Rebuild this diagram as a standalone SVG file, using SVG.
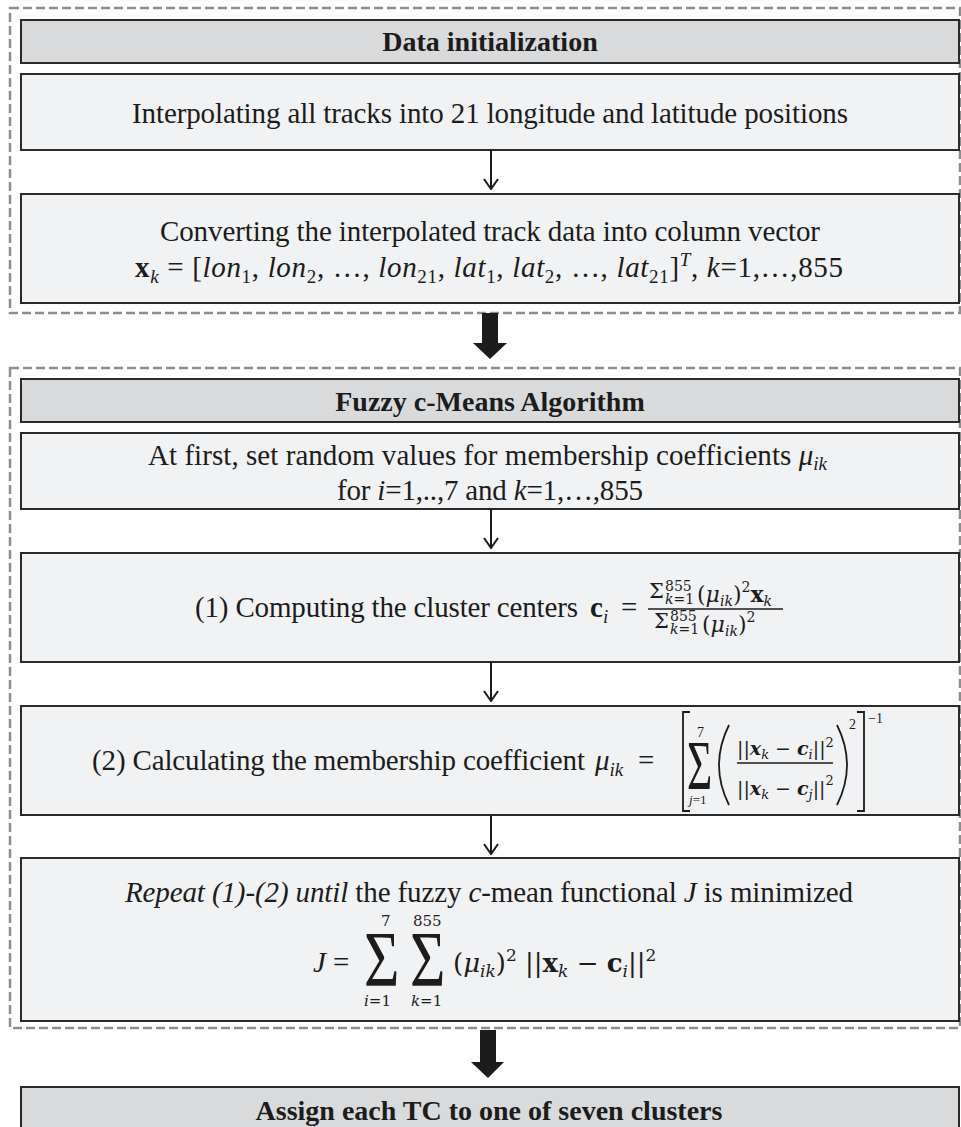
<svg xmlns="http://www.w3.org/2000/svg" width="961" height="1127" viewBox="0 0 961 1127">
<style>
.dash{fill:none;stroke:#8e8e8e;stroke-width:2.5;stroke-dasharray:9 4}
.hdr{fill:#d9dadc;stroke:#2b2b2b;stroke-width:2}
.box{fill:#f1f2f3;stroke:#2b2b2b;stroke-width:2}
.t{font-family:"Liberation Serif","Times New Roman",serif;font-size:29px;fill:#1c1c1c}
.m{font-family:"DejaVu Serif","Liberation Serif",serif}
.h{font-size:28px;font-weight:bold}
.b{font-weight:bold}
.i{font-style:italic}
.s{font-size:19px}
.ss{font-size:14px}
.conn line{stroke:#1c1c1c;stroke-width:2}
.thick{fill:#1c1c1c}
.brk{fill:none;stroke:#1c1c1c;stroke-width:1.8}
</style>
<defs>
<marker id="v" viewBox="0 0 12 16" refX="11" refY="8" markerWidth="12" markerHeight="16" markerUnits="userSpaceOnUse" orient="auto">
<path d="M1,1 L11,8 L1,15" fill="none" stroke="#1c1c1c" stroke-width="2"/>
</marker>
</defs>
<rect id="group-data-init" class="dash" x="10" y="8" width="950" height="305"/>
<rect id="group-fcm" class="dash" x="10" y="368" width="950" height="660"/>

<g id="n-data-init">
<rect class="hdr" x="21" y="20" width="938" height="43"/>
<text class="t h" x="490" y="51" text-anchor="middle">Data initialization</text>
</g>
<g id="n-interp">
<rect class="box" x="21" y="74" width="938" height="76"/>
<text class="t" x="132" y="123" textLength="716" lengthAdjust="spacing">Interpolating all tracks into 21 longitude and latitude positions</text>
</g>
<g id="n-convert">
<rect class="box" x="21" y="194" width="938" height="109"/>
<text class="t" x="160" y="241" textLength="660" lengthAdjust="spacing">Converting the interpolated track data into column vector</text>
<text class="t" x="135" y="277" textLength="708" lengthAdjust="spacing"><tspan class="b">x</tspan><tspan class="s i" dy="6">k</tspan><tspan dy="-6"> = [</tspan><tspan class="i">lon</tspan><tspan class="s" dy="6">1</tspan><tspan dy="-6">, </tspan><tspan class="i">lon</tspan><tspan class="s" dy="6">2</tspan><tspan dy="-6">, …, </tspan><tspan class="i">lon</tspan><tspan class="s" dy="6">21</tspan><tspan dy="-6">, </tspan><tspan class="i">lat</tspan><tspan class="s" dy="6">1</tspan><tspan dy="-6">, </tspan><tspan class="i">lat</tspan><tspan class="s" dy="6">2</tspan><tspan dy="-6">, …, </tspan><tspan class="i">lat</tspan><tspan class="s" dy="6">21</tspan><tspan dy="-6">]</tspan><tspan class="s i" dy="-11">T</tspan><tspan dy="11">, </tspan><tspan class="i">k</tspan><tspan>=1,…,855</tspan></text>
</g>

<g id="n-fcm">
<rect class="hdr" x="21" y="379" width="938" height="43"/>
<text class="t h" x="490" y="411" text-anchor="middle">Fuzzy c-Means Algorithm</text>
</g>
<g id="n-init-mu">
<rect class="box" x="21" y="433" width="938" height="76"/>
<text class="t" x="148" y="465" textLength="679" lengthAdjust="spacing">At first, set random values for membership coefficients <tspan class="i">μ</tspan><tspan class="s i" dy="5">ik</tspan></text>
<text class="t" x="337" y="500" textLength="306" lengthAdjust="spacing">for <tspan class="i">i</tspan>=1,..,7 and <tspan class="i">k</tspan>=1,…,855</text>
</g>

<g id="n-centers">
<rect class="box" x="21" y="553" width="938" height="109"/>
<text class="t" x="195" y="617" textLength="383" lengthAdjust="spacing">(1) Computing the cluster centers</text>
<text class="t" x="590" y="617"><tspan class="b">c</tspan><tspan class="s i" dy="6">i</tspan></text>
<text class="t" x="621" y="617">=</text>
<text class="t m" x="649" y="598" style="font-size:21px">Σ</text>
<text class="t m" x="665" y="591" style="font-size:14px">855</text>
<text class="t m" x="665" y="604" style="font-size:14px"><tspan class="i">k</tspan>=1</text>
<text class="t m" x="697" y="602" style="font-size:22px">(<tspan class="i">μ</tspan><tspan class="i" style="font-size:14px" dy="4">ik</tspan><tspan dy="-4">)</tspan><tspan style="font-size:14px" dy="-10">2</tspan><tspan class="b" dy="10">x</tspan><tspan class="i" style="font-size:14px" dy="4">k</tspan></text>
<line x1="648" y1="609" x2="783" y2="609" stroke="#1c1c1c" stroke-width="1.5"/>
<text class="t m" x="654" y="628" style="font-size:21px">Σ</text>
<text class="t m" x="670" y="621" style="font-size:14px">855</text>
<text class="t m" x="670" y="634" style="font-size:14px"><tspan class="i">k</tspan>=1</text>
<text class="t m" x="702" y="632" style="font-size:22px">(<tspan class="i">μ</tspan><tspan class="i" style="font-size:14px" dy="4">ik</tspan><tspan dy="-4">)</tspan><tspan style="font-size:14px" dy="-10">2</tspan></text>
</g>

<g id="n-membership">
<rect class="box" x="21" y="706" width="938" height="109"/>
<text class="t" x="92" y="770" textLength="493" lengthAdjust="spacing">(2) Calculating the membership coefficient</text>
<text class="t" x="595" y="770"><tspan class="i">μ</tspan><tspan class="s i" dy="6">ik</tspan></text>
<text class="t" x="638" y="770">=</text>
<path class="brk" d="M690,712 H683 V811 H690"/>
<path class="brk" d="M857,712 H864 V811 H857"/>
<text class="t" transform="translate(687,789) scale(0.62,1)" style="font-size:70px">Σ</text>
<text class="t ss" x="697" y="737">7</text>
<text class="t" x="689" y="804" style="font-size:13px"><tspan class="i">j</tspan>=1</text>
<path class="brk" d="M729,725 Q709,765 729,805"/>
<path class="brk" d="M837,725 Q857,765 837,805"/>
<text class="t m" x="737" y="755" style="font-size:19px">||<tspan class="b i">x</tspan><tspan class="i" style="font-size:13px" dy="4">k</tspan><tspan dy="-4"> − </tspan><tspan class="b i">c</tspan><tspan class="i" style="font-size:13px" dy="4">i</tspan><tspan dy="-4">||</tspan><tspan style="font-size:13px" dy="-8">2</tspan></text>
<line x1="737" y1="763" x2="833" y2="763" stroke="#1c1c1c" stroke-width="1.3"/>
<text class="t m" x="737" y="795" style="font-size:19px">||<tspan class="b i">x</tspan><tspan class="i" style="font-size:13px" dy="4">k</tspan><tspan dy="-4"> − </tspan><tspan class="b i">c</tspan><tspan class="i" style="font-size:13px" dy="4">j</tspan><tspan dy="-4">||</tspan><tspan style="font-size:13px" dy="-10">2</tspan></text>
<text class="t ss" x="849" y="729">2</text>
<text class="t ss" x="868" y="723">−1</text>
</g>

<g id="n-repeat">
<rect class="box" x="21" y="858" width="938" height="163"/>
<text class="t" x="125" y="902" textLength="728" lengthAdjust="spacing"><tspan class="i">Repeat (1)-(2) until</tspan> the fuzzy <tspan class="i">c</tspan>-mean functional <tspan class="i">J</tspan> is minimized</text>
<text class="t i" x="313" y="972">J</text>
<text class="t" x="333" y="972">=</text>
<text class="t" transform="translate(364,985) scale(0.78,1)" style="font-size:78px">Σ</text>
<text class="t" transform="translate(410,985) scale(0.78,1)" style="font-size:78px">Σ</text>
<text class="t m" x="381" y="926" style="font-size:15px">7</text>
<text class="t m" x="413" y="926" style="font-size:15px">855</text>
<text class="t m" x="364" y="1006" style="font-size:15px"><tspan class="i">i</tspan>=1</text>
<text class="t m" x="411" y="1006" style="font-size:15px"><tspan class="i">k</tspan>=1</text>
<text class="t m" x="453" y="972" style="font-size:26px">(<tspan class="i">μ</tspan><tspan class="i" style="font-size:17px" dy="5">ik</tspan><tspan dy="-5">)</tspan><tspan style="font-size:17px" dy="-11">2</tspan><tspan dy="11"> ||</tspan><tspan class="b">x</tspan><tspan class="i" style="font-size:17px" dy="5">k</tspan><tspan dy="-5"> − </tspan><tspan class="b">c</tspan><tspan class="i" style="font-size:17px" dy="5">i</tspan><tspan dy="-5">||</tspan><tspan style="font-size:17px" dy="-11">2</tspan></text>
</g>

<g id="n-assign">
<rect class="hdr" x="21" y="1087" width="938" height="60"/>
<text class="t h" x="489" y="1120" text-anchor="middle">Assign each TC to one of seven clusters</text>
</g>

<g id="connectors" class="conn">
<line x1="491" y1="150" x2="491" y2="189" marker-end="url(#v)"/>
<line x1="491" y1="509" x2="491" y2="548" marker-end="url(#v)"/>
<line x1="491" y1="662" x2="491" y2="701" marker-end="url(#v)"/>
<line x1="491" y1="815" x2="491" y2="854" marker-end="url(#v)"/>
<polygon class="thick" points="482,313 498,313 498,343 507,343 490,359 473,343 482,343"/>
<polygon class="thick" points="480,1030 496,1030 496,1062 504,1062 488,1078 471,1062 480,1062"/>
</g>
</svg>
